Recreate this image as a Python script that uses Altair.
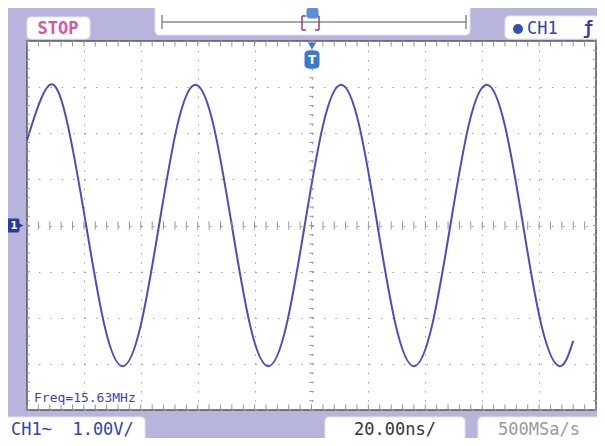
import altair as alt
import pandas as pd

time_ns = [0.0, 8.0, 14.4, 20.8, 27.2, 33.6, 40.0, 46.4, 52.8, 59.2, 65.6, 72.0,
           78.4, 84.8, 91.2, 97.6, 104.0, 110.4, 116.8, 123.2, 129.6, 136.0,
           142.4, 148.8, 155.2, 161.6, 168.0, 174.4, 180.8, 187.2, 192.0]
volts = [1.85, 3.05, 2.16, 0.0, -2.16, -3.05, -2.16, 0.0, 2.16, 3.05, 2.16, 0.0,
         -2.16, -3.05, -2.16, 0.0, 2.16, 3.05, 2.16, 0.0, -2.16, -3.05,
         -2.16, 0.0, 2.16, 3.05, 2.16, 0.0, -2.16, -3.05, -2.50]

x_divs = [0, 20, 40, 60, 80, 100, 120, 140, 160, 180, 200]
y_divs = [-4, -3, -2, -1, 0, 1, 2, 3, 4]
x_minor = [i * 4 for i in range(51)]
y_minor = [round(-4 + i * 0.2, 2) for i in range(41)]

status_txt = "STOP"
chan_txt = "CH1"
trig_txt = "\u0192"
freq_txt = "Freq=15.63MHz"
vdiv_txt = "CH1~\u00a0\u00a01.00V/"
tdiv_txt = "20.00ns/"
rate_txt = "500MSa/s"
marker_txt = "1"
trig_mark = "T"

W, H = 569, 369
BG = "#b8b5dd"
TRACE = "#4c4cc0"
BLUE = "#3444a6"
MONO = "DejaVu Sans Mono"

xs = alt.Scale(domain=[0, 200], nice=False, zero=False)
ys = alt.Scale(domain=[-4, 4], nice=False, zero=False)

wave = pd.DataFrame({"t": time_ns, "v": volts})
dummy = pd.DataFrame({"a": [0]})

trace = alt.Chart(wave).mark_line(
    color=TRACE, strokeWidth=2, interpolate="natural"
).encode(
    x=alt.X("t:Q", scale=xs, axis=alt.Axis(values=x_divs, grid=True, labels=False, ticks=False,
                                          domain=False, title=None, gridColor="#a0a0a0",
                                          gridDash=[1.5, 7.7], gridWidth=1)),
    y=alt.Y("v:Q", scale=ys, axis=alt.Axis(values=y_divs, grid=True, labels=False, ticks=False,
                                          domain=False, title=None, gridColor="#a0a0a0",
                                          gridDash=[1.5, 9.9], gridWidth=1)),
)

xm = pd.DataFrame({"t": x_minor})
ym = pd.DataFrame({"v": y_minor})
tick_col = "#959595"

def xticks(lo, hi):
    return alt.Chart(xm).mark_rule(color=tick_col, strokeWidth=1).encode(
        x=alt.X("t:Q", scale=xs), y=alt.datum(lo), y2=alt.datum(hi))

def yticks(lo, hi):
    return alt.Chart(ym).mark_rule(color=tick_col, strokeWidth=1).encode(
        y=alt.Y("v:Q", scale=ys), x=alt.datum(lo), x2=alt.datum(hi))

ticks = [xticks(-0.09, 0.09), xticks(3.88, 4.0), xticks(-4.0, -3.88),
         yticks(99.2, 100.8), yticks(0, 1.0), yticks(199.0, 200)]


def box(x0, x1, y0, y1, fill="white", stroke="#e4e3f2", r=4):
    return alt.Chart(dummy).mark_rect(fill=fill, stroke=stroke, strokeWidth=1, cornerRadius=r).encode(
        x=alt.value(x0), x2=alt.value(x1), y=alt.value(y0), y2=alt.value(y1))


def txt(s, x, y, color, size=15, align="left", weight="normal", font=MONO):
    return alt.Chart(dummy).mark_text(text=s, color=color, fontSize=size, align=align,
                                      baseline="middle", font=font, fontWeight=weight).encode(
        x=alt.value(x), y=alt.value(y))


def rule(x0, x1, y0, y1, color, w=1.5):
    return alt.Chart(dummy).mark_rule(color=color, strokeWidth=w).encode(
        x=alt.value(x0), x2=alt.value(x1), y=alt.value(y0), y2=alt.value(y1))


ui = [
    # STOP
    box(0, 63, -24, -2),
    txt(status_txt, 31, -12, "#d9579f", size=17, align="center", weight="bold"),
    # top timeline bar
    box(128, 443, -40, -6),
    rule(135, 439, -19, -19, "#8a8a8a", 1.5),
    rule(135, 135, -26, -12, "#8a8a8a", 1.5),
    rule(439, 439, -26, -12, "#8a8a8a", 1.5),
    rule(275, 275, -25, -11, "#9a3d6e", 1.5),
    rule(275, 279, -25, -25, "#9a3d6e", 1.5),
    rule(275, 279, -11, -11, "#9a3d6e", 1.5),
    rule(292, 292, -25, -11, "#9a3d6e", 1.5),
    rule(288, 292, -25, -25, "#9a3d6e", 1.5),
    rule(288, 292, -11, -11, "#9a3d6e", 1.5),
    box(280, 291, -33, -23, fill="#5b8fd8", stroke="#5b8fd8", r=2),
    # trigger marker at top of grid
    alt.Chart(dummy).mark_point(shape="triangle-down", filled=True, size=70, color="#3b78d0", opacity=1).encode(
        x=alt.value(285), y=alt.value(5)),
    box(278, 292, 10, 27, fill="#3b78d0", stroke="#3b78d0", r=3),
    txt(trig_mark, 285, 19, "white", size=12, align="center", weight="bold", font="DejaVu Sans"),
    # CH1 trigger box
    box(478, 572, -25, -2),
    alt.Chart(dummy).mark_point(shape="circle", filled=True, size=100, color="#2f55b0", opacity=1).encode(
        x=alt.value(491), y=alt.value(-12)),
    txt(chan_txt, 500, -12, BLUE, size=17),
    txt(trig_txt, 561, -12, BLUE, size=17, align="center", weight="bold"),
    # channel-1 ground marker
    box(-20, -8, 178, 191, fill="#2c3c98", stroke="#2c3c98", r=1),
    alt.Chart(dummy).mark_point(shape="triangle-right", filled=True, size=60, color="#2c3c98", opacity=1).encode(
        x=alt.value(-7), y=alt.value(184.5)),
    txt(marker_txt, -13, 185, "white", size=10, align="center", weight="bold", font="DejaVu Sans"),
    # frequency readout
    txt(freq_txt, 7, 357, "#3a46b0", size=13),
    # bottom boxes
    box(-22, 118, 376, 401),
    txt(vdiv_txt, -16, 389, BLUE, size=17),
    box(298, 438, 376, 400),
    txt(tdiv_txt, 368, 389, "#333333", size=17, align="center"),
    box(451, 574, 376, 400),
    txt(rate_txt, 512, 389, "#9a9a9a", size=17, align="center"),
]

chart = alt.layer(trace, *ticks, *ui).properties(
    width=W, height=H,
    padding={"left": 19, "top": 33, "right": 1, "bottom": 28},
    autosize="none",
    background=BG,
).configure_view(stroke="#555555", strokeWidth=1.5, fill="white")

chart.save("out.html", embed_options={"renderer": "svg", "actions": False})
